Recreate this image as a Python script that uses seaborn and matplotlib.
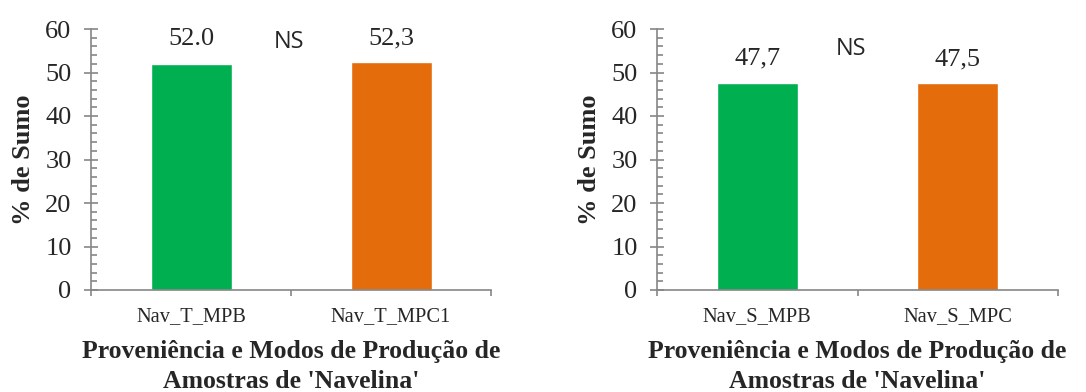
import matplotlib
matplotlib.use('Agg')
import matplotlib.pyplot as plt
import seaborn as sns
import pandas as pd
from matplotlib.ticker import MultipleLocator, FixedLocator

# data
left_samples = ["Nav_T_MPB", "Nav_T_MPC1"]
left_values = [52.0, 52.3]
left_labels = ["52.0", "52,3"]

right_samples = ["Nav_S_MPB", "Nav_S_MPC"]
right_values = [47.7, 47.5]
right_labels = ["47,7", "47,5"]

bar_colors = ["#00B050", "#E46C0A"]
y_label = "% de Sumo"
x_label = "Proveniência e Modos de Produção de\nAmostras de 'Navelina'"
sig_text = "NS"

sns.set_theme(style="white")
plt.rcParams['font.family'] = ['Liberation Serif', 'DejaVu Serif']

W, H = 1086, 392
fig = plt.figure(figsize=(W / 100, H / 100), dpi=100)

axis_col = "#868686"


def px_axes(x0, x1, ytop, ybot):
    return fig.add_axes([x0 / W, 1 - ybot / H, (x1 - x0) / W, (ybot - ytop) / H])


def draw_panel(ax, samples, values, labels, ns_x, ns_y):
    df = pd.DataFrame({"sample": samples, "value": values})
    sns.barplot(data=df, x="sample", y="value", hue="sample", palette=bar_colors,
                width=0.405, legend=False, ax=ax, saturation=1)
    ax.set_xlim(-0.5, 1.5)
    ax.set_ylim(0, 60)
    for s in ["top", "right"]:
        ax.spines[s].set_visible(False)
    for s in ["left", "bottom"]:
        ax.spines[s].set_color(axis_col)
        ax.spines[s].set_linewidth(1.2)

    # y ticks: major cross, minor inside
    ax.yaxis.set_major_locator(MultipleLocator(10))
    ax.yaxis.set_minor_locator(MultipleLocator(2))
    ax.tick_params(axis="y", which="major", direction="inout", length=10, width=1.2,
                   color=axis_col, labelsize=19, pad=9, left=True)
    ax.tick_params(axis="y", which="minor", direction="in", length=4.5, width=1.2,
                   color=axis_col, left=True)

    # x: labels at bar centres, tick marks at category boundaries
    ax.set_xticks(range(len(samples)))
    ax.set_xticklabels(samples)
    ax.xaxis.set_minor_locator(FixedLocator([-0.5, 0.5, 1.5]))
    ax.tick_params(axis="x", which="major", length=0, labelsize=14.7, pad=12.5)
    ax.tick_params(axis="x", which="minor", direction="out", length=4, width=1.2,
                   color=axis_col, bottom=True)

    ax.set_ylabel(y_label, fontsize=19, fontweight="bold", labelpad=7)
    ax.set_xlabel(x_label, fontsize=18.5, fontweight="bold", labelpad=10, linespacing=1.4)

    for i, (v, lab) in enumerate(zip(values, labels)):
        ax.annotate(lab, (i, v), xytext=(0, 17.5), textcoords="offset points",
                    ha="center", va="center", fontsize=19)
    ax.text(ns_x, ns_y, sig_text, ha="center", va="center", fontsize=17,
            family=["Open Sans", "DejaVu Sans"])


ax1 = px_axes(91, 491, 29, 290)
draw_panel(ax1, left_samples, left_values, left_labels, 0.49, 57.0)

ax2 = px_axes(657, 1058, 29, 290)
draw_panel(ax2, right_samples, right_values, right_labels, 0.47, 55.3)

fig.savefig("out.png", dpi=100)
